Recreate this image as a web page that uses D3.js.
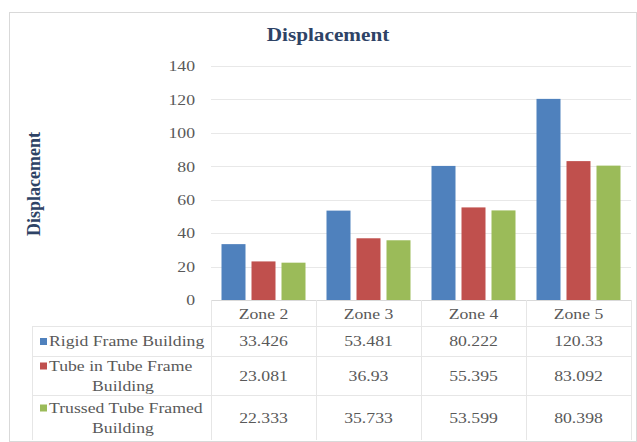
<!DOCTYPE html>
<html>
<head>
<meta charset="utf-8">
<script src="https://cdn.jsdelivr.net/npm/d3@7"></script>
<style>
  body { margin: 0; background: #fff; }
  text { font-family: "Liberation Serif", "Times New Roman", serif; }
</style>
</head>
<body>
<div class="viz"></div>
<script>
// chart data
const zones = ['Zone 2', 'Zone 3', 'Zone 4', 'Zone 5']
const seriesNames = [['Rigid Frame Building'], ['Tube in Tube Frame', 'Building'], ['Trussed Tube Framed', 'Building']]
const rigidFrame = [33.426, 53.481, 80.222, 120.33]
const tubeInTube = [23.081, 36.93, 55.395, 83.092]
const trussedTube = [22.333, 35.733, 53.599, 80.398]
const rigidLabels = ['33.426', '53.481', '80.222', '120.33']
const tubeLabels = ['23.081', '36.93', '55.395', '83.092']
const trussedLabels = ['22.333', '35.733', '53.599', '80.398']
const yTicks = [0, 20, 40, 60, 80, 100, 120, 140]
const colors = ['#4F81BD', '#C0504D', '#9BBB59']

const series = [
  { name: seriesNames[0], values: rigidFrame, labels: rigidLabels, color: colors[0] },
  { name: seriesNames[1], values: tubeInTube, labels: tubeLabels, color: colors[1] },
  { name: seriesNames[2], values: trussedTube, labels: trussedLabels, color: colors[2] }
]

const width = 637
const height = 442
const plotLeft = 211, plotRight = 631, plotTop = 66, plotBottom = 300
const tableLeft = 32
const rowLines = [302, 326, 356, 395, 440]
const sx = 1.18 // the picture's text is a bit wider than the font
const fontSize = 15
const textColor = '#595959'

const svg = d3.select('.viz').append('svg')
  .attr('width', width)
  .attr('height', height)

// outer frame
svg.append('rect')
  .attr('x', 9.5).attr('y', 12.5)
  .attr('width', 627).attr('height', 429)
  .attr('fill', '#fff').attr('stroke', '#d9d9d9')

const x = d3.scaleBand().domain(zones).range([plotLeft, plotRight])
const x1 = d3.scaleBand().domain(d3.range(series.length)).range([0, x.bandwidth()]).paddingInner(0.2).paddingOuter(0.35)
const y = d3.scaleLinear().domain([0, 140]).range([plotBottom, plotTop])

// helper: horizontal text, stretched a little
function label(g, tx, ty, str, anchor) {
  return g.append('text')
    .attr('transform', `translate(${tx},${ty}) scale(${sx},1)`)
    .attr('text-anchor', anchor || 'middle')
    .attr('font-size', fontSize).attr('fill', textColor)
    .text(str)
}

// gridlines
svg.append('g').selectAll('line')
  .data(yTicks.filter(d => d > 0)).enter().append('line')
  .attr('x1', plotLeft).attr('x2', plotRight)
  .attr('y1', d => Math.round(y(d)) + 0.5).attr('y2', d => Math.round(y(d)) + 0.5)
  .attr('stroke', '#e8e8e8')

// y axis tick labels
const yAxis = svg.append('g')
  .attr('transform', `translate(${plotLeft - 16},0)`)
  .call(d3.axisLeft(y).tickValues(yTicks).tickSize(0).tickPadding(0))
yAxis.select('.domain').remove()
yAxis.selectAll('text')
  .attr('transform', `scale(${sx},1)`)
  .attr('font-size', fontSize).attr('fill', textColor)
  .attr('font-family', '"Liberation Serif", serif')

// bars
const groups = svg.append('g').selectAll('g')
  .data(zones).enter().append('g')
  .attr('transform', d => `translate(${x(d)},0)`)

groups.selectAll('rect')
  .data((z, i) => series.map((s, j) => ({ j, v: s.values[i], color: s.color }))).enter().append('rect')
  .attr('x', d => x1(d.j))
  .attr('width', x1.bandwidth())
  .attr('y', d => y(d.v))
  .attr('height', d => y(0) - y(d.v))
  .attr('fill', d => d.color)

// x axis baseline
svg.append('line')
  .attr('x1', plotLeft).attr('x2', plotRight)
  .attr('y1', plotBottom + 0.5).attr('y2', plotBottom + 0.5)
  .attr('stroke', '#d9d9d9')

// data table lines
const table = svg.append('g')
table.selectAll('line.row')
  .data(rowLines.slice(1, 4)).enter().append('line')
  .attr('class', 'row')
  .attr('x1', tableLeft).attr('x2', plotRight)
  .attr('y1', d => d + 0.5).attr('y2', d => d + 0.5)
  .attr('stroke', '#e6e6e6')
table.append('line')
  .attr('x1', tableLeft + 0.5).attr('x2', tableLeft + 0.5)
  .attr('y1', rowLines[1]).attr('y2', rowLines[4])
  .attr('stroke', '#e6e6e6')
table.selectAll('line.col')
  .data(zones.map(z => x(z)).concat([plotRight])).enter().append('line')
  .attr('class', 'col')
  .attr('x1', d => d + 0.5).attr('x2', d => d + 0.5)
  .attr('y1', plotBottom).attr('y2', rowLines[4])
  .attr('stroke', '#e6e6e6')

// zone labels
zones.forEach(z => label(table, x(z) + x.bandwidth() / 2, (rowLines[0] + rowLines[1]) / 2 + 5, z))

// rows: legend key, series name, values
series.forEach((s, r) => {
  const cy = (rowLines[r + 1] + rowLines[r + 2]) / 2
  const lineH = 20
  const nameTop = cy - (s.name.length - 1) * lineH / 2
  s.name.forEach((line, k) => {
    if (k === 0) label(table, 49, nameTop + 5, line, 'start')
    else label(table, 123, nameTop + k * lineH + 5, line, 'middle')
  })
  table.append('rect')
    .attr('x', 40).attr('y', nameTop - 3)
    .attr('width', 7).attr('height', 7)
    .attr('fill', s.color)
  zones.forEach((z, i) => label(table, x(z) + x.bandwidth() / 2, cy + 5, s.labels[i]))
})

// titles
svg.append('text')
  .attr('transform', `translate(328,41) scale(${sx},1)`)
  .attr('text-anchor', 'middle')
  .attr('font-size', 18).attr('font-weight', 'bold')
  .attr('fill', '#2E4366')
  .text('Displacement')

svg.append('text')
  .attr('transform', 'translate(40,184) rotate(-90)')
  .attr('text-anchor', 'middle')
  .attr('font-size', 18).attr('font-weight', 'bold')
  .attr('fill', '#2E4366')
  .text('Displacement')
</script>
</body>
</html>
